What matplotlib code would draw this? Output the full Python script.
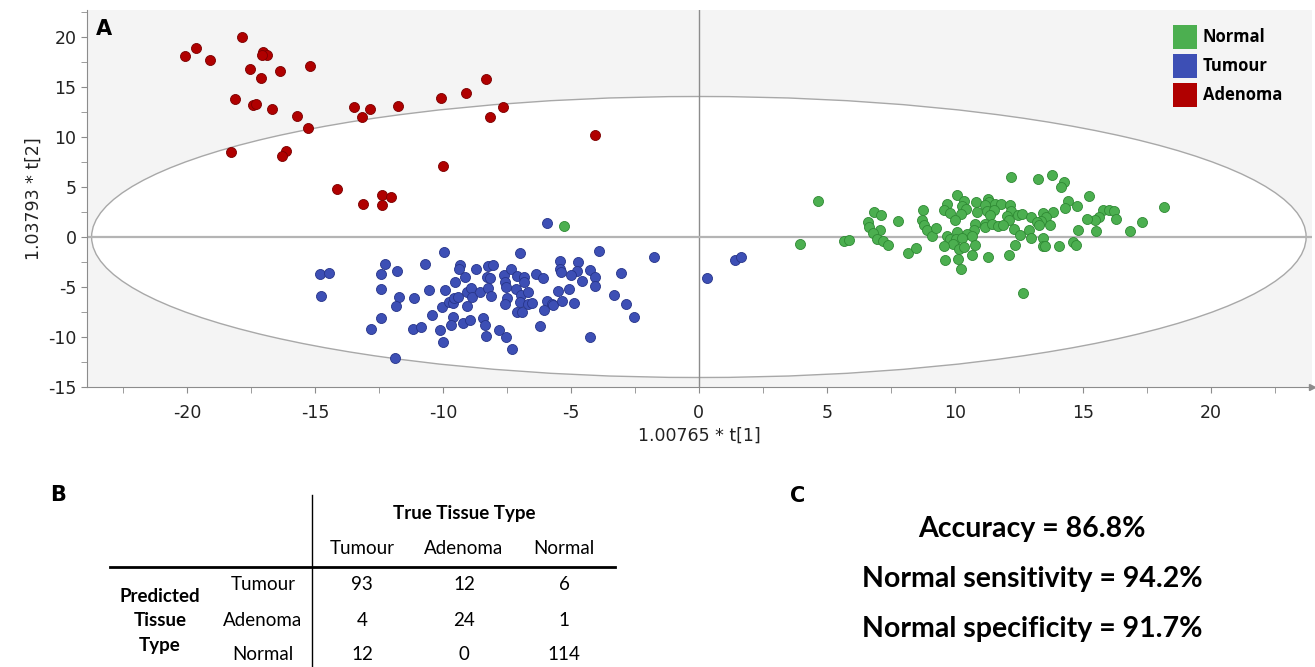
import matplotlib
matplotlib.use("Agg")
import matplotlib.pyplot as plt
from matplotlib.patches import Ellipse, Rectangle

plt.rcParams["axes.unicode_minus"] = False

# --- data ---
adenoma_x = [-20.07, -19.65, -19.10, -17.83, -17.04, -16.86, -17.08, -17.54, -17.11, -16.37,
             -15.20, -18.10, -17.41, -17.29, -16.67, -15.70, -15.27, -13.48, -12.86, -13.14,
             -11.77, -18.28, -16.12, -16.29, -14.13, -13.11, -12.36, -12.02, -12.36, -10.09,
             -9.10, -8.32, -7.66, -8.16, -4.05, -9.99]
adenoma_y = [18.13, 18.93, 17.73, 20.03, 18.47, 18.20, 18.20, 16.77, 15.93, 16.60,
             17.10, 13.80, 13.20, 13.27, 12.77, 12.13, 10.87, 12.97, 12.83, 12.03,
             13.13, 8.50, 8.57, 8.07, 4.77, 3.30, 4.20, 4.00, 3.20, 13.87,
             14.43, 15.77, 13.03, 11.97, 10.23, 7.07]

tumour_x = [-14.80, -14.44, -14.75, -12.27, -12.41, -11.80, -12.43, -11.72, -11.84, -12.41,
            -12.79, -11.85, -10.68, -9.95, -11.11, -10.53, -11.18, -10.86, -10.43, -10.12,
            -9.99, -10.04, -9.91, -9.75, -9.62, -9.52, -9.56, -9.39, -9.61, -9.69,
            -9.32, -9.36, -9.15, -9.21, -9.04, -9.07, -8.89, -8.86, -8.93, -8.72,
            -8.55, -8.44, -8.35, -8.32, -8.25, -8.06, -8.28, -8.16, -8.25, -8.10,
            -7.82, -7.55, -7.28, -7.60, -7.58, -7.54, -7.34, -7.50, -7.59, -7.12,
            -6.84, -6.84, -7.15, -6.93, -6.98, -6.68, -6.69, -7.10, -6.89, -7.00,
            -5.94, -3.91, -1.75, -5.44, -4.73, -5.44, -5.38, -4.75, -5.00, -4.27,
            -4.04, -4.57, -4.04, -3.06, -3.33, -2.84, -2.54, -6.37, -6.08, -6.53,
            -5.52, -5.07, -5.95, -5.75, -5.68, -5.36, -4.87, -6.03, -6.21, -4.27,
            0.31, 1.41, 1.64]
tumour_y = [-3.73, -3.57, -5.93, -2.67, -3.67, -3.37, -5.17, -5.97, -6.87, -8.07,
            -9.20, -12.07, -2.67, -1.53, -6.10, -5.33, -9.23, -8.97, -7.83, -9.33,
            -10.47, -7.00, -5.33, -6.47, -6.60, -4.53, -6.10, -6.00, -8.00, -8.77,
            -2.80, -3.23, -4.00, -8.57, -6.93, -5.47, -5.13, -6.03, -8.33, -3.20,
            -5.53, -8.07, -8.80, -9.87, -2.90, -2.80, -3.97, -4.13, -5.13, -5.93,
            -9.33, -10.00, -11.23, -3.80, -4.47, -5.03, -3.20, -6.13, -6.73, -3.93,
            -4.03, -4.47, -5.23, -5.80, -6.47, -5.47, -6.70, -7.47, -7.53, -1.60,
            1.40, -1.40, -2.03, -2.37, -2.53, -3.20, -3.53, -3.37, -3.80, -3.30,
            -3.97, -4.37, -4.93, -3.57, -5.83, -6.73, -8.00, -3.73, -4.10, -6.57,
            -5.40, -5.17, -6.37, -6.73, -6.80, -6.37, -6.63, -7.27, -8.90, -9.97,
            -4.07, -2.33, -1.97]

normal_x = [-5.26, 4.66, 3.95, 5.68, 5.85, 6.85, 7.12, 6.59, 6.63, 7.07,
            6.82, 6.97, 7.21, 7.37, 7.77, 8.16, 8.49, 8.76, 8.71, 8.80,
            8.92, 9.10, 9.26, 10.09, 9.70, 9.58, 9.82, 10.35, 10.26, 10.44,
            10.25, 10.00, 10.81, 10.85, 10.78, 10.74, 9.69, 10.09, 10.47, 9.80,
            10.03, 10.27, 10.66, 9.91, 9.58, 10.16, 10.35, 10.78, 10.68, 9.62,
            10.12, 10.22, 12.19, 13.23, 13.78, 14.27, 14.13, 15.23, 18.16, 17.30,
            16.85, 14.40, 14.31, 14.78, 15.79, 16.03, 16.21, 16.28, 15.63, 15.46,
            15.17, 15.53, 14.82, 14.62, 14.74, 14.05, 11.28, 11.33, 11.16, 11.56,
            11.80, 12.17, 11.25, 11.51, 11.37, 12.21, 12.02, 12.11, 12.47, 12.61,
            12.96, 13.44, 13.82, 13.55, 13.36, 13.19, 13.27, 13.70, 11.17, 11.17,
            11.46, 11.67, 11.88, 12.32, 12.53, 12.88, 12.98, 13.44, 12.36, 13.43,
            13.53, 12.11, 11.29, 12.66]
normal_y = [1.07, 3.57, -0.70, -0.40, -0.27, 2.47, 2.17, 1.53, 0.97, 0.73,
            0.37, -0.20, -0.40, -0.77, 1.60, -1.60, -1.07, 2.73, 1.70, 1.20,
            0.70, 0.13, 0.90, 4.17, 3.33, 2.73, 2.37, 3.63, 3.13, 2.83,
            2.27, 1.73, 3.53, 2.50, 1.30, 0.70, 0.10, 0.53, 0.33, -0.20,
            -0.23, -0.07, 0.10, -0.70, -0.93, -1.20, -1.00, -0.77, -1.77, -2.30,
            -2.23, -3.17, 5.97, 5.77, 6.17, 5.53, 4.97, 4.10, 2.97, 1.47,
            0.63, 3.57, 2.87, 3.10, 2.70, 2.70, 2.63, 1.80, 1.97, 1.67,
            1.80, 0.57, 0.70, -0.47, -0.83, -0.87, 3.80, 3.53, 3.20, 3.27,
            3.27, 3.23, 2.60, 2.67, 2.20, 2.57, 2.10, 1.70, 2.20, 2.27,
            1.97, 2.37, 2.47, 1.97, 1.63, 1.50, 1.20, 1.17, 1.30, 1.03,
            1.33, 1.13, 1.23, 0.80, 0.20, 0.67, -0.10, -0.10, -0.77, -0.90,
            -0.93, -1.83, -2.03, -5.60]

legend_names = ["Normal", "Tumour", "Adenoma"]
legend_colors = ["#4caf50", "#3d4fb5", "#b00000"]

# confusion matrix (rows = predicted, columns = true)
classes = ["Tumour", "Adenoma", "Normal"]
confusion = [[93, 12, 6],
             [4, 24, 1],
             [12, 0, 114]]
metrics = ["Accuracy = 86.8%", "Normal sensitivity = 94.2%", "Normal specificity = 91.7%"]

W, H = 1315, 667


def fx(px):
    return px / W


def fy(py):
    return 1 - py / H


fig = plt.figure(figsize=(W / 100, H / 100), dpi=100)

# ---------------- panel A ----------------
ax = fig.add_axes([fx(87), fy(387), fx(1312 - 87), (387 - 10) / H])
ax.set_facecolor("#f4f4f4")
ax.set_xlim(-23.9, 23.95)
ax.set_ylim(-15, 22.7)

ax.add_patch(Ellipse((0, 0), 2 * 23.72, 2 * 14.05, facecolor="white",
                     edgecolor="#a8a8a8", linewidth=1.0, zorder=1))
ax.axvline(0, color="#8c8c8c", linewidth=1.0, zorder=2)
ax.axhline(0, color="#b4b4b4", linewidth=1.6, zorder=2)

ax.scatter(normal_x, normal_y, s=52, color=legend_colors[0], edgecolors="#2f8a34",
           linewidths=0.6, zorder=3)
ax.scatter(tumour_x, tumour_y, s=52, color=legend_colors[1], edgecolors="#27358a",
           linewidths=0.6, zorder=4)
ax.scatter(adenoma_x, adenoma_y, s=52, color=legend_colors[2], edgecolors="#7a0000",
           linewidths=0.6, zorder=5)

for side in ["top", "right"]:
    ax.spines[side].set_visible(False)
for side in ["left", "bottom"]:
    ax.spines[side].set_color("#8c8c8c")
ax.plot(1, 0, ">", color="#8c8c8c", markersize=5, transform=ax.transAxes, clip_on=False)

ax.set_xticks(range(-20, 21, 5))
ax.set_xticks([v * 2.5 for v in range(-9, 10)], minor=True)
ax.set_yticks(range(-15, 21, 5))
ax.set_yticks([v * 2.5 for v in range(-6, 10)], minor=True)
ax.tick_params(which="both", length=4, color="#8c8c8c", labelsize=12.5,
               labelcolor="#222222")
ax.tick_params(axis="x", pad=8)

ax.set_xlabel("1.00765 * t[1]", fontsize=12.5, color="#222222", labelpad=4)
ax.set_ylabel("1.03793 * t[2]", fontsize=12.5, color="#222222", labelpad=4)

# legend squares drawn by hand, sized like the reference
for i, (name, col) in enumerate(zip(legend_names, legend_colors)):
    top = 25 + i * 29
    fig.add_artist(Rectangle((fx(1173), fy(top + 24)), 24 / W, 24 / H,
                             facecolor=col, edgecolor="none", transform=fig.transFigure))
    fig.text(fx(1203), fy(top + 12), name, ha="left", va="center",
             family="Open Sans", weight="bold", size=12)

fig.text(fx(96), fy(35), "A", fontsize=15, fontweight="bold", family="DejaVu Sans")

# ---------------- panel B ----------------
tf = {"family": "Lato", "size": 13.5}
fig.text(fx(50), fy(501), "B", fontsize=15, fontweight="bold", family="DejaVu Sans")
fig.add_artist(plt.Line2D([fx(312), fx(312)], [fy(495), fy(667)], color="black", linewidth=1.0))
fig.add_artist(plt.Line2D([fx(110), fx(615)], [fy(567), fy(567)], color="black", linewidth=2.0))

col_x = [362, 464, 564]
row_y = [585, 620, 655]
fig.text(fx(464), fy(513), "True Tissue Type", ha="center", va="center", weight="bold", **tf)
for cx, name in zip(col_x, classes):
    fig.text(fx(cx), fy(548), name, ha="center", va="center", **tf)
for ry, name in zip(row_y, classes):
    fig.text(fx(263), fy(ry), name, ha="center", va="center", **tf)
for ry, row in zip(row_y, confusion):
    for cx, val in zip(col_x, row):
        fig.text(fx(cx), fy(ry), str(val), ha="center", va="center", **tf)
for ry, word in zip([596, 621, 646], ["Predicted", "Tissue", "Type"]):
    fig.text(fx(160), fy(ry), word, ha="center", va="center", weight="bold", **tf)

# ---------------- panel C ----------------
fig.text(fx(790), fy(502), "C", fontsize=15, fontweight="bold", family="DejaVu Sans")
for ty, line in zip([529, 579, 629], metrics):
    fig.text(fx(1032), fy(ty), line, ha="center", va="center", family="Lato",
             weight="bold", size=20.5)

fig.savefig("out.png", dpi=100)
